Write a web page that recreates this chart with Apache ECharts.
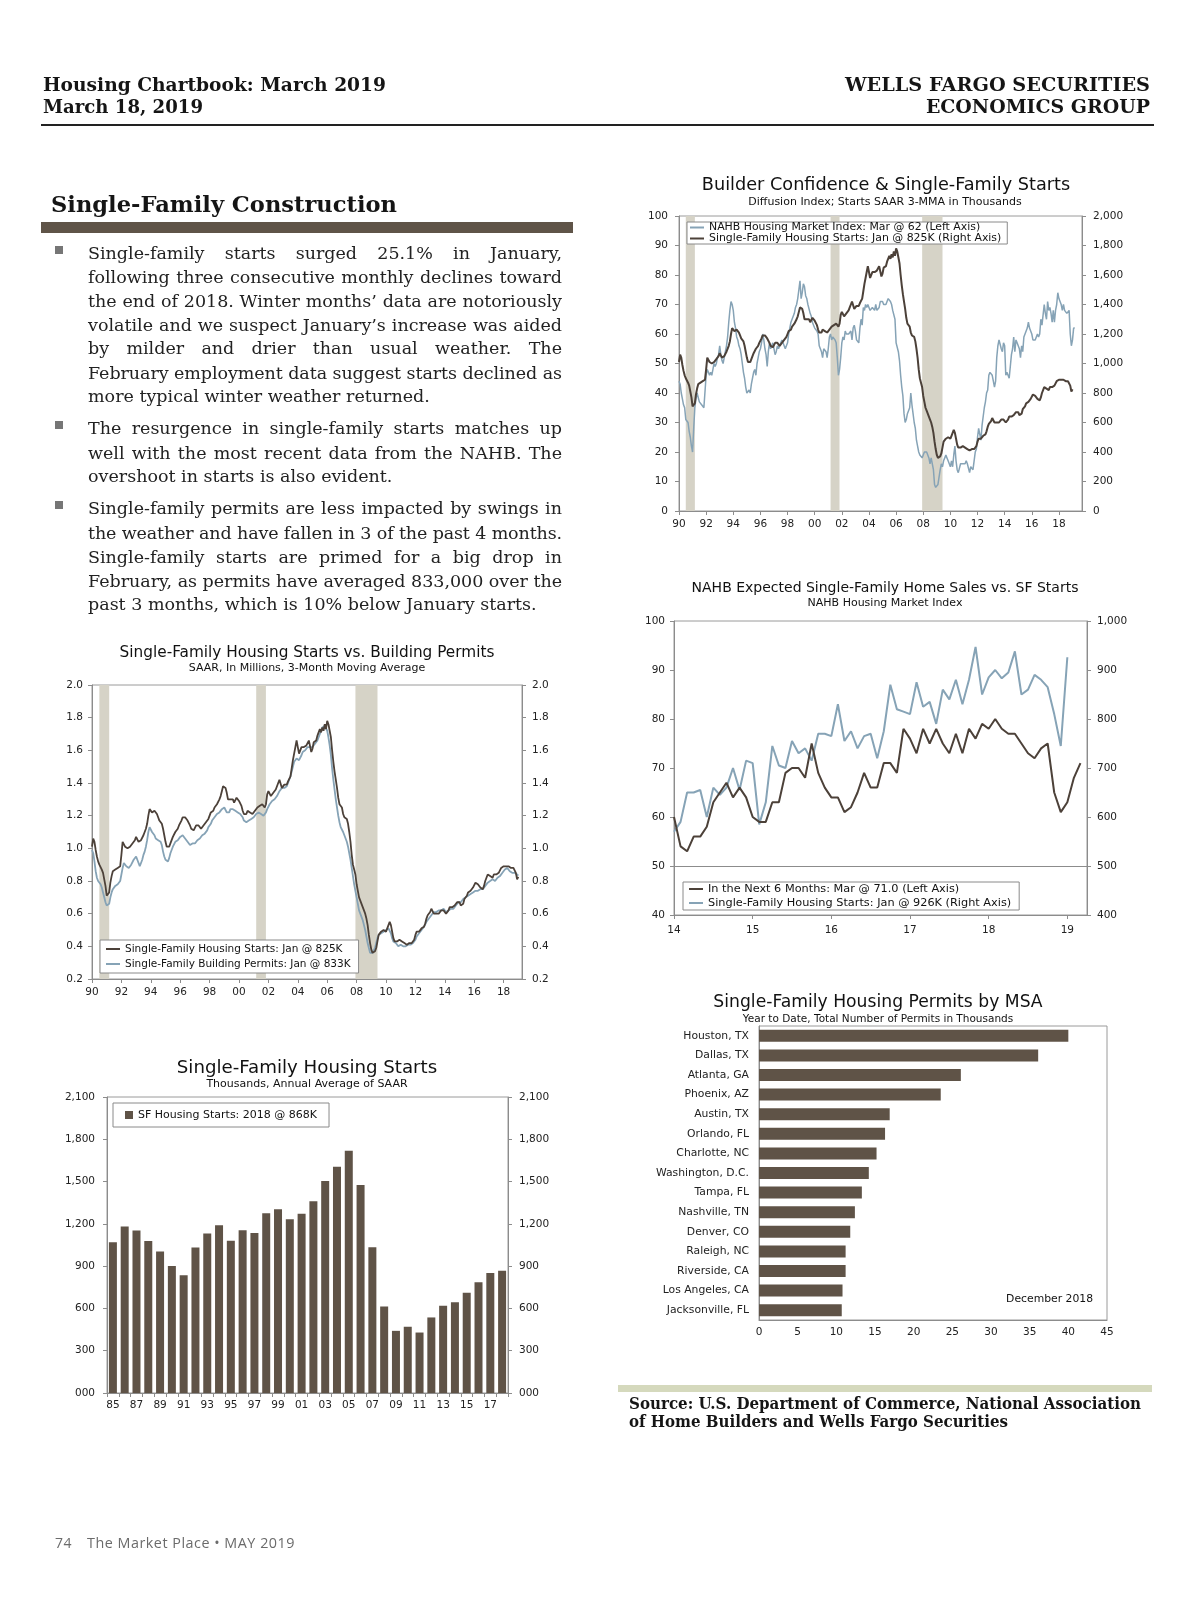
<!DOCTYPE html>
<html><head><meta charset="utf-8">
<script src="https://cdn.jsdelivr.net/npm/echarts@6/dist/echarts.min.js"></script>
<style>
html,body{margin:0;padding:0;background:#fff;}
#page{position:relative;width:1200px;height:1606px;overflow:hidden;background:#fff;}
#chart{position:absolute;left:0;top:0;width:1200px;height:1606px;}
.t{position:absolute;white-space:nowrap;color:#151515;display:inline-block;}
.hdr{font-family:'DejaVu Serif';font-weight:bold;font-size:19px;line-height:22px;}
.sec{font-family:'DejaVu Serif';font-weight:bold;font-size:23px;line-height:26px;}
.body{font-family:'DejaVu Serif';font-size:17.5px;line-height:24px;color:#222;}
.src{font-family:'DejaVu Serif';font-weight:bold;font-size:16px;line-height:18px;}
.foot{font-family:'Open Sans';font-size:14px;line-height:18px;color:#6b6b6b;letter-spacing:0.5px;}
.blk{position:absolute;}
</style></head>
<body><div id="page"><div id="chart"></div></div>
<script>
// ---------------- DATA ----------------
// Builder Confidence: NAHB HMI monthly, Jan 1990 - Mar 2019
const nahbHMI = [
 44,43,40,38,36,35,31,31,30,27,25,22,
 20,28,35,38,40,40,37,37,36,36,35,35,
 46,48,47,46,47,46,48,50,49,50,52,53,
 56,53,51,50,52,54,56,59,64,68,71,70,
 68,64,62,59,58,56,55,53,50,47,45,42,
 40,40,41,40,43,45,47,48,46,50,52,54,
 55,57,60,58,55,53,49,54,57,55,56,57,
 55,53,54,56,55,56,57,58,57,56,55,56,
 57,60,62,64,65,66,67,69,70,72,75,78,
 72,74,77,76,73,72,70,70,67,66,64,63,
 62,62,61,60,56,55,54,52,55,55,54,52,
 55,59,60,58,59,59,58,57,52,46,48,52,
 57,59,58,61,60,60,60,60,61,58,62,63,
 61,58,58,57,62,65,63,69,68,70,69,70,
 70,68,68,69,69,68,70,68,68,69,71,71,
 71,70,70,70,71,72,72,71,70,68,68,65,
 57,57,54,51,46,42,39,33,30,31,33,33,
 35,40,36,33,30,28,24,22,20,19,19,18,
 19,20,20,20,19,18,16,18,18,14,9,8,
 8,9,9,14,16,15,17,18,19,18,17,16,
 15,17,15,19,22,17,14,13,13,16,16,16,
 16,16,17,16,16,13,15,15,14,17,20,21,
 25,28,28,24,29,29,35,37,40,41,46,47,
 47,46,44,42,44,52,56,58,58,55,54,57,
 56,46,47,46,45,49,53,55,59,54,58,57,
 57,55,52,56,54,59,60,61,62,64,62,61,
 60,58,58,58,58,60,59,60,65,63,63,70,
 67,65,71,68,69,67,64,68,64,68,70,74,
 72,71,70,68,70,68,68,67,67,68,60,56,
 58,62,62];
// Single-family starts, SAAR 3-MMA, thousands, Jan 1990 - Jan 2019
const sfStarts3mma = [
 1010,1060,1040,990,950,920,900,890,870,850,810,770,
 710,700,730,790,830,860,870,870,880,880,880,890,
 960,1040,1030,1010,1000,1000,1000,1010,1020,1030,1040,1050,
 1070,1060,1040,1040,1050,1060,1080,1090,1120,1150,1200,1240,
 1250,1220,1210,1230,1240,1210,1190,1170,1160,1150,1120,1080,
 1040,1010,1000,1010,1030,1050,1070,1080,1100,1110,1120,1140,
 1150,1170,1190,1200,1190,1180,1170,1160,1140,1120,1110,1110,
 1120,1140,1150,1140,1130,1120,1130,1140,1140,1160,1170,1180,
 1200,1220,1230,1230,1250,1260,1270,1280,1300,1320,1350,1380,
 1380,1370,1340,1300,1290,1300,1310,1300,1280,1290,1310,1300,
 1290,1280,1260,1230,1210,1200,1210,1230,1220,1220,1230,1210,
 1210,1230,1240,1250,1250,1260,1260,1270,1260,1250,1270,1330,
 1350,1340,1320,1330,1340,1350,1360,1380,1400,1420,1410,1370,
 1380,1390,1380,1390,1410,1420,1440,1490,1540,1580,1620,1660,
 1620,1580,1590,1620,1630,1620,1610,1630,1640,1660,1650,1590,
 1610,1650,1660,1660,1690,1700,1730,1710,1740,1720,1760,1730,
 1780,1760,1720,1680,1600,1530,1470,1420,1370,1310,1270,1260,
 1250,1210,1190,1190,1180,1150,1100,1040,960,900,870,840,
 780,740,700,680,660,640,620,600,570,530,470,420,
 380,360,360,370,390,430,470,480,490,500,500,490,
 490,510,530,550,530,490,450,430,430,430,440,440,
 430,430,420,420,410,410,420,420,420,420,430,440,
 470,490,500,490,500,510,520,520,540,570,590,600,
 610,630,620,600,600,600,610,600,610,620,630,620,
 610,600,610,620,640,640,640,640,650,660,670,680,
 670,650,640,660,690,700,710,730,740,740,740,760,
 770,790,790,780,770,760,760,750,770,800,820,840,
 840,830,830,820,840,840,840,840,850,860,880,880,
 890,890,890,890,890,890,880,870,880,870,850,810,
 825];
// Single-family permits, SAAR 3-MMA, millions, Jan 1990 - Jan 2019
const sfPermits3mma = [
 0.99,0.97,0.92,0.86,0.82,0.80,0.79,0.78,0.76,0.73,0.70,0.67,
 0.65,0.64,0.66,0.70,0.73,0.75,0.76,0.77,0.78,0.78,0.79,0.80,
 0.84,0.88,0.91,0.90,0.89,0.89,0.88,0.89,0.90,0.91,0.93,0.94,
 0.95,0.94,0.91,0.89,0.90,0.93,0.96,0.98,1.01,1.05,1.10,1.13,
 1.12,1.10,1.09,1.08,1.06,1.05,1.05,1.04,1.04,1.02,0.98,0.95,
 0.93,0.92,0.92,0.94,0.97,0.99,1.01,1.02,1.04,1.05,1.05,1.06,
 1.07,1.08,1.08,1.07,1.06,1.05,1.04,1.03,1.02,1.02,1.03,1.03,
 1.03,1.04,1.05,1.06,1.06,1.07,1.08,1.08,1.09,1.10,1.11,1.13,
 1.14,1.15,1.17,1.18,1.19,1.20,1.21,1.21,1.22,1.23,1.24,1.25,
 1.25,1.24,1.22,1.21,1.22,1.24,1.25,1.24,1.23,1.23,1.22,1.22,
 1.22,1.21,1.20,1.19,1.17,1.16,1.16,1.17,1.17,1.18,1.18,1.18,
 1.19,1.20,1.21,1.21,1.22,1.22,1.21,1.21,1.20,1.20,1.22,1.24,
 1.25,1.27,1.28,1.29,1.29,1.30,1.31,1.32,1.33,1.35,1.36,1.37,
 1.37,1.37,1.37,1.38,1.40,1.42,1.44,1.47,1.50,1.53,1.54,1.55,
 1.54,1.54,1.55,1.57,1.59,1.60,1.60,1.61,1.62,1.62,1.62,1.62,
 1.62,1.63,1.64,1.65,1.66,1.68,1.70,1.72,1.74,1.75,1.75,1.74,
 1.72,1.68,1.63,1.57,1.49,1.42,1.36,1.30,1.25,1.20,1.16,1.13,
 1.12,1.10,1.08,1.06,1.04,1.01,0.97,0.93,0.88,0.83,0.78,0.74,
 0.70,0.66,0.62,0.60,0.58,0.56,0.53,0.50,0.46,0.42,0.39,0.36,
 0.35,0.36,0.37,0.39,0.42,0.45,0.47,0.48,0.48,0.48,0.49,0.49,
 0.50,0.50,0.51,0.51,0.48,0.45,0.43,0.42,0.42,0.41,0.40,0.41,
 0.41,0.40,0.40,0.40,0.40,0.41,0.41,0.41,0.41,0.42,0.42,0.43,
 0.44,0.46,0.47,0.48,0.49,0.50,0.51,0.52,0.53,0.55,0.56,0.57,
 0.58,0.59,0.60,0.61,0.61,0.61,0.62,0.62,0.62,0.62,0.62,0.63,
 0.62,0.61,0.61,0.62,0.62,0.63,0.63,0.63,0.64,0.65,0.66,0.67,
 0.67,0.67,0.68,0.69,0.70,0.70,0.71,0.71,0.71,0.72,0.73,0.73,
 0.73,0.74,0.74,0.74,0.74,0.75,0.75,0.75,0.76,0.77,0.78,0.79,
 0.79,0.80,0.81,0.81,0.80,0.80,0.81,0.82,0.82,0.83,0.84,0.85,
 0.86,0.87,0.87,0.88,0.87,0.86,0.85,0.85,0.85,0.85,0.85,0.84,
 0.833];
const recessions = [[1990.5,1991.17],[2001.17,2001.83],[2007.92,2009.42]];
// NAHB expected sales next 6 months, Jan 2014 - Mar 2019
const nahbNext6 = [
 60,54,53,56,56,58,63,65,67,64,66,64,
 60,59,59,63,63,69,70,70,68,75,69,66,
 64,64,61,62,65,69,66,66,71,71,69,78,
 76,73,78,75,78,75,73,77,73,78,76,79,
 78,80,78,77,77,75,73,72,74,75,65,61,
 63,68,71];
// Single-family starts monthly SAAR thousands, Jan 2014 - Jan 2019
const sfStartsMonthly = [
 570,590,650,650,655,600,660,645,660,700,655,715,
 710,585,630,745,705,700,755,730,740,715,770,770,
 765,830,755,775,740,765,770,720,775,870,820,815,
 810,875,825,835,790,860,840,880,830,880,947,850,
 885,900,883,895,938,850,860,890,880,865,810,745,
 926];
// Annual SF starts (thousands)
const annualYears = ['85','86','87','88','89','90','91','92','93','94','95','96','97','98','99','00','01','02','03','04','05','06','07','08','09','10','11','12','13','14','15','16','17','18'];
const annualStarts = [1070,1181,1153,1079,1003,901,835,1032,1131,1190,1081,1155,1136,1276,1304,1233,1271,1361,1504,1606,1719,1476,1034,614,441,470,429,536,619,643,712,785,851,868];
// Permits by MSA, YTD thousands
const msaNames = ['Houston, TX','Dallas, TX','Atlanta, GA','Phoenix, AZ','Austin, TX','Orlando, FL','Charlotte, NC','Washington, D.C.','Tampa, FL','Nashville, TN','Denver, CO','Raleigh, NC','Riverside, CA','Los Angeles, CA','Jacksonville, FL'];
const msaPermits = [40.0,36.1,26.1,23.5,16.9,16.3,15.2,14.2,13.3,12.4,11.8,11.2,11.2,10.8,10.7];

// ---------------- PAGE TEXT ----------------
const page = document.getElementById('page');
function addText(txt, cls, left, cy, opts){
  opts = opts||{};
  const el = document.createElement('div');
  el.className = 't ' + cls;
  el.textContent = txt;
  page.appendChild(el);
  const lh = parseFloat(getComputedStyle(el).lineHeight);
  el.style.top = (cy - lh/2 - (opts.dy||0)) + 'px';
  const w = el.getBoundingClientRect().width;
  if (opts.right !== undefined){
    el.style.left = (opts.right - w) + 'px';
    if (opts.fit){ el.style.transformOrigin = 'right center'; el.style.transform = 'scaleX(' + (opts.fit/w) + ')'; }
  } else {
    el.style.left = left + 'px';
    if (opts.fit){ el.style.transformOrigin = 'left center'; el.style.transform = 'scaleX(' + (opts.fit/w) + ')'; }
    if (opts.justify){
      const n = (txt.match(/ /g)||[]).length;
      if (w < opts.justify && n > 0) el.style.wordSpacing = ((opts.justify - w)/n) + 'px';
      else if (w > opts.justify) el.style.letterSpacing = ((opts.justify - w)/txt.length) + 'px';
    }
  }
  return el;
}
function addBlock(left, top, w, h, color){
  const d = document.createElement('div'); d.className='blk';
  d.style.cssText += `left:${left}px;top:${top}px;width:${w}px;height:${h}px;background:${color};`;
  page.appendChild(d);
}
addText('Housing Chartbook: March 2019','hdr',43,84,{fit:343});
addText('March 18, 2019','hdr',43,106,{fit:160});
addText('WELLS FARGO SECURITIES','hdr',0,84,{right:1150,fit:305});
addText('ECONOMICS GROUP','hdr',0,106,{right:1150,fit:224});
addBlock(41,124,1113,2,'#222');
addText('Single-Family Construction','sec',51,204,{fit:346});
addBlock(41,222,532,11,'#5f5448');

const paras = [
 {y:[254.7,278.3,302.8,326.3,349.9,374.4,397.9], lines:[
  'Single-family starts surged 25.1% in January,',
  'following three consecutive monthly declines toward',
  'the end of 2018. Winter months\u2019 data are notoriously',
  'volatile and we suspect January\u2019s increase was aided',
  'by milder and drier than usual weather. The',
  'February employment data suggest starts declined as',
  'more typical winter weather returned.']},
 {y:[429.7,454.2,477.7], lines:[
  'The resurgence in single-family starts matches up',
  'well with the most recent data from the NAHB. The',
  'overshoot in starts is also evident.']},
 {y:[509.5,534,558.6,582.1,605.6], lines:[
  'Single-family permits are less impacted by swings in',
  'the weather and have fallen in 3 of the past 4 months.',
  'Single-family starts are primed for a big drop in',
  'February, as permits have averaged 833,000 over the',
  'past 3 months, which is 10% below January starts.']}
];
paras.forEach(p=>{
  addBlock(55, p.y[0]-9, 8, 8, '#767676');
  p.lines.forEach((ln,i)=>{
    const last = i === p.lines.length-1;
    addText(ln,'body',88,p.y[i],last?{dy:1.5}:{justify:474,dy:1.5});
  });
});
addBlock(618,1385,534,7,'#d5d9bd');
addText('Source: U.S. Department of Commerce, National Association','src',629,1404,{fit:512});
addText('of Home Builders and Wells Fargo Securities','src',629,1422,{fit:379});
addText('74','foot',55,1543);
addText('The Market Place \u2022 MAY 2019','foot',87,1543,{fit:208});

// ---------------- CHARTS ----------------
const DARK = '#4c4139', BLUE = '#86a3b6', BAR = '#5f5347', GRAYAX = '#8c8c8c', SHADE = '#d6d3c7';
const FF = 'DejaVu Sans';
const monthly = (start, arr) => arr.map((v,i)=>[start + i/12, v]);
const comma = v => Math.round(v).toLocaleString('en-US');
const yy = v => String(Math.round(v)).slice(2);

function vAxis(grid, pos, min, max, interval, fmt, margin){
  return {type:'value', gridIndex:grid, position:pos, min, max, interval,
    axisLine:{show:true, lineStyle:{color:GRAYAX}}, axisTick:{show:true, length:4, lineStyle:{color:GRAYAX}},
    splitLine:{show:false}, axisLabel:{color:'#222', fontFamily:FF, fontSize:10.5, margin:margin||10, formatter:fmt}};
}
function xVal(grid, min, max, interval, margin){
  return {type:'value', gridIndex:grid, min, max, interval,
    axisLine:{show:true, onZero:false, lineStyle:{color:GRAYAX}}, axisTick:{show:true, length:4, lineStyle:{color:GRAYAX}},
    splitLine:{show:false}, axisLabel:{color:'#222', fontFamily:FF, fontSize:10.5, margin:margin||8, formatter:yy, showMaxLabel:false}};
}
function legend(names, left, top, o){
  return Object.assign({data:names, left, top, orient:'vertical', icon:'rect', itemWidth:14, itemHeight:2, itemGap:0,
    selectedMode:false, borderColor:'#8a8a8a', borderWidth:1, backgroundColor:'#fff', padding:[0,5,0,3],
    textStyle:{fontFamily:FF, fontSize:10.5, color:'#111', lineHeight:11}}, o||{});
}
function gtext(text, x, y, size, align){
  return {type:'text', z:100, style:{text, x, y, fill:'#111', font: size + 'px "DejaVu Sans"',
    textAlign:align||'center', align:align||'center', textVerticalAlign:'middle', verticalAlign:'middle'}};
}
const nmA1 = 'NAHB Housing Market Index: Mar @ 62 (Left Axis)';
const nmA2 = 'Single-Family Housing Starts: Jan @ 825K (Right Axis)';
const nmB1 = 'In the Next 6 Months: Mar @ 71.0 (Left Axis)';
const nmB2 = 'Single-Family Housing Starts: Jan @ 926K (Right Axis)';
const nmC1 = 'Single-Family Housing Starts: Jan @ 825K';
const nmC2 = 'Single-Family Building Permits: Jan @ 833K';
const nmD = 'SF Housing Starts: 2018 @ 868K';
const gridStyle = {show:true, borderColor:'#9a9a9a', borderWidth:1, backgroundColor:'transparent'};
const recArea = {silent:true, itemStyle:{color:SHADE}, data: recessions.map(r=>[{xAxis:r[0]},{xAxis:r[1]}])};

const option = {
  animation:false,
  grid:[
    Object.assign({left:679, top:216, width:403, height:295}, gridStyle),
    Object.assign({left:674, top:621, width:413, height:294}, gridStyle),
    Object.assign({left:92, top:685, width:430, height:294}, gridStyle),
    Object.assign({left:107, top:1097, width:401, height:296}, gridStyle),
    Object.assign({left:759, top:1026, width:348, height:294}, gridStyle)
  ],
  xAxis:[
    xVal(0, 1990, 2019.7, 2, 8),
    xVal(1, 2014, 2019.25, 1, 10),
    xVal(2, 1990, 2019.25, 2, 8),
    {type:'category', gridIndex:3, data:annualYears, boundaryGap:true,
      axisLine:{show:true, lineStyle:{color:GRAYAX}}, axisTick:{show:true, length:4, interval:0, lineStyle:{color:GRAYAX}},
      axisLabel:{interval:1, color:'#222', fontFamily:FF, fontSize:10.5, margin:7}},
    {type:'value', gridIndex:4, min:0, max:45, interval:5,
      axisLine:{show:true, lineStyle:{color:GRAYAX}}, axisTick:{show:false}, splitLine:{show:false},
      axisLabel:{color:'#222', fontFamily:FF, fontSize:10.5, margin:7}}
  ],
  yAxis:[
    vAxis(0,'left',0,100,10,null,11),
    vAxis(0,'right',0,2000,200,comma,11),
    vAxis(1,'left',40,100,10,null,9),
    vAxis(1,'right',400,1000,100,comma,10),
    vAxis(2,'left',0.2,2.0,0.2,v=>v.toFixed(1),9),
    vAxis(2,'right',0.2,2.0,0.2,v=>v.toFixed(1),10),
    vAxis(3,'left',0,2100,300,v=>v===0?'000':comma(v),12),
    vAxis(3,'right',0,2100,300,v=>v===0?'000':comma(v),11),
    {type:'category', gridIndex:4, data:msaNames, inverse:true,
      axisLine:{show:true, lineStyle:{color:GRAYAX}}, axisTick:{show:false},
      axisLabel:{color:'#222', fontFamily:FF, fontSize:10.8, margin:10}}
  ],
  legend:[
    legend([nmA1,nmA2], 687, 222, {padding:[0,6,0,3], textStyle:{fontFamily:FF,fontSize:10.9,color:'#111',lineHeight:11}}),
    legend([nmB1,nmB2], 683, 882, {itemGap:2, padding:[1,8,1,6], textStyle:{fontFamily:FF,fontSize:11.3,color:'#111',lineHeight:12}}),
    legend([nmC1,nmC2], 100, 940, {itemGap:1, padding:[2,8,2,6], textStyle:{fontFamily:FF,fontSize:10.5,color:'#111',lineHeight:14}}),
    legend([nmD], 113, 1103, {itemWidth:8, itemHeight:8, padding:[6,12,6,12], textStyle:{fontFamily:FF,fontSize:11,color:'#111',lineHeight:12}})
  ],
  graphic:[
    gtext('Builder Confidence & Single-Family Starts', 886, 185, 17.7),
    gtext('Diffusion Index; Starts SAAR 3-MMA in Thousands', 885, 202, 11),
    gtext('NAHB Expected Single-Family Home Sales vs. SF Starts', 885, 588, 14),
    gtext('NAHB Housing Market Index', 885, 603, 11),
    gtext('Single-Family Housing Starts vs. Building Permits', 307, 653, 15.3),
    gtext('SAAR, In Millions, 3-Month Moving Average', 307, 668, 11),
    gtext('Single-Family Housing Starts', 307, 1068, 18.2),
    gtext('Thousands, Annual Average of SAAR', 307, 1084, 11),
    gtext('Single-Family Housing Permits by MSA', 878, 1003, 17.2),
    gtext('Year to Date, Total Number of Permits in Thousands', 878, 1019, 10.5),
    gtext('December 2018', 1093, 1299, 10.8, 'right')
  ],
  series:[
    {name:nmA1, type:'line', xAxisIndex:0, yAxisIndex:0, data:monthly(1990,nahbHMI), showSymbol:false, symbol:'none',
      color:BLUE, lineStyle:{width:1.5, color:BLUE}, z:3, markArea:recArea},
    {name:nmA2, type:'line', xAxisIndex:0, yAxisIndex:1, data:monthly(1990,sfStarts3mma), showSymbol:false, symbol:'none',
      color:DARK, lineStyle:{width:2, color:DARK}, z:4},
    {name:nmB2, type:'line', xAxisIndex:1, yAxisIndex:3, data:monthly(2014,sfStartsMonthly), showSymbol:false, symbol:'none',
      color:BLUE, lineStyle:{width:2, color:BLUE}, z:3},
    {name:nmB1, type:'line', xAxisIndex:1, yAxisIndex:2, data:monthly(2014,nahbNext6), showSymbol:false, symbol:'none',
      color:DARK, lineStyle:{width:2, color:DARK}, z:4,
      markLine:{silent:true, symbol:'none', label:{show:false}, lineStyle:{color:GRAYAX, type:'solid', width:1}, data:[{yAxis:50}]}},
    {name:nmC2, type:'line', xAxisIndex:2, yAxisIndex:4, data:monthly(1990,sfPermits3mma), showSymbol:false, symbol:'none',
      color:BLUE, lineStyle:{width:1.8, color:BLUE}, z:3, markArea:recArea},
    {name:nmC1, type:'line', xAxisIndex:2, yAxisIndex:4, data:monthly(1990,sfStarts3mma.map(v=>v/1000)), showSymbol:false, symbol:'none',
      color:DARK, lineStyle:{width:1.8, color:DARK}, z:4},
    {name:nmD, type:'bar', xAxisIndex:3, yAxisIndex:6, data:annualStarts, barWidth:8, color:BAR, itemStyle:{color:BAR}},
    {name:'Permits by MSA', type:'bar', xAxisIndex:4, yAxisIndex:8, data:msaPermits, barWidth:12, color:BAR, itemStyle:{color:BAR}}
  ]
};
const chart = echarts.init(document.getElementById('chart'), null, {renderer:'canvas'});
chart.setOption(option);
</script>
</body></html>
